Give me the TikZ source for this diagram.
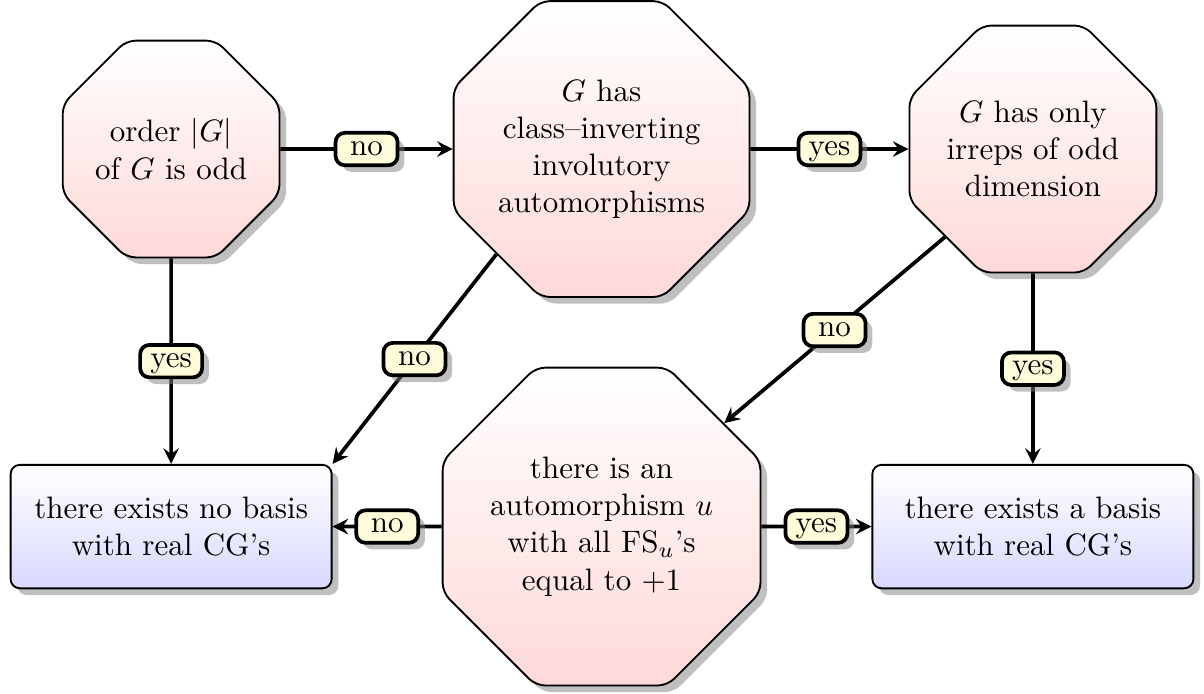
\documentclass[tikz,border=0pt]{standalone}
\usepackage{amsmath}
\usepackage{tikz}
\usetikzlibrary{shapes.geometric,shadows}

\begin{document}
\begin{tikzpicture}[
    decision/.style={regular polygon,regular polygon sides=8,draw,semithick,
      rounded corners=3pt,top color=white,bottom color=red!15,drop shadow,
      align=center,inner sep=0pt},
    result/.style={rectangle,draw,semithick,rounded corners=3pt,top color=white,
      bottom color=blue!15,drop shadow,align=center,minimum width=3.64cm,
      minimum height=1.40cm},
    answer/.style={rectangle,draw,very thick,rounded corners=3pt,fill=yellow!15,
      drop shadow,inner xsep=3pt,inner ysep=2pt,minimum width=20pt,
      text height=1.2ex,text depth=.3ex},
    flow/.style={->,>=stealth,very thick}]
      \useasboundingbox (0,0) rectangle (13.65,-7.86);

      \node[decision,minimum size=2.66cm] (odd) at (1.94,-1.69) {order $|G|$\\ of $G$ is odd};
      \node[decision,minimum size=3.63cm] (inv) at (6.82,-1.69) {$G$ has\\ class--inverting\\ involutory\\ automorphisms};
      \node[decision,minimum size=3.03cm] (irreps) at (11.71,-1.69) {$G$ has only\\ irreps of odd\\ dimension};
      \node[decision,minimum size=3.90cm] (fs) at (6.82,-5.97) {there is an\\ automorphism $u$\\ with all FS$_u$'s\\ equal to $+1$};
      \node[result] (nobasis) at (1.94,-5.97) {there exists no basis\\ with real CG's};
      \node[result] (basis) at (11.71,-5.97) {there exists a basis\\ with real CG's};

      \draw[flow] (odd) -- node[answer]{no} (inv);
      \draw[flow] (inv) -- node[answer]{yes} (irreps);
      \draw[flow] (odd) -- node[answer]{yes} (nobasis);
      \draw[flow] (inv.south west) -- node[answer]{no} (nobasis.north east);
      \draw[flow] (irreps.south west) -- node[answer]{no} (fs);
      \draw[flow] (irreps) -- node[answer]{yes} (basis);
      \draw[flow] (fs) -- node[answer]{no} (nobasis);
      \draw[flow] (fs) -- node[answer]{yes} (basis);

      % \node at (6.82,-7.5) {};
\end{tikzpicture}
\end{document}
